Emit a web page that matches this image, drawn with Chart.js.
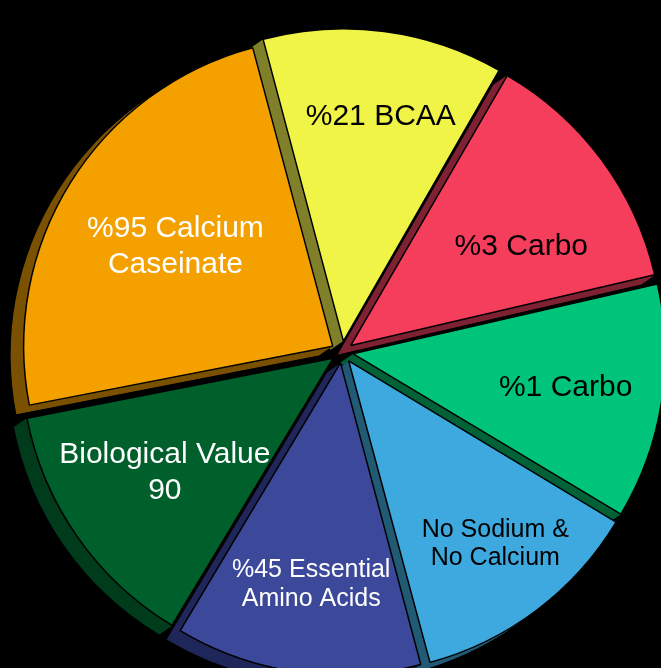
<!DOCTYPE html>
<html>
<head>
<meta charset="utf-8">
<script src="https://cdn.jsdelivr.net/npm/chart.js@4"></script>
<style>
  html, body { margin: 0; padding: 0; background: #000; overflow: hidden; }
  #wrap { width: 661px; height: 668px; position: relative; }
</style>
</head>
<body>
<div id="wrap"><canvas id="c" width="661" height="668"></canvas></div>
<script>
// ---- data ----
const categories = [
  ['%21 BCAA'],
  ['%3 Carbo'],
  ['%1 Carbo'],
  ['No Sodium &', 'No Calcium'],
  ['%45 Essential', 'Amino Acids'],
  ['Biological Value', '90'],
  ['%95 Calcium', 'Caseinate']
];
const values = [45, 47, 44, 44, 46, 48, 86];

// ---- styles ----
const faceColors = ['#F0F446', '#F53D5C', '#00C47A', '#3EA9DE', '#3C4899', '#00602C', '#F4A100'];
const sideColors = ['#7F8029', '#7E2233', '#006236', '#215A75', '#1F2659', '#003B1B', '#7A5100'];
const textColors = ['#000', '#000', '#000', '#000', '#fff', '#fff', '#fff'];
const fontSizes = [30, 30, 30, 25, 25, 30, 30];
const lineHeights = [36, 36, 36, 28, 29, 36, 36];
// label placement: fraction of radius, angle nudge (deg)
const labelDist = [0.777, 0.677, 0.732, 0.79, 0.754, 0.69, 0.642];
const labelNudge = [1.8, 5.5, -0.4, -1.9, -0.4, 1.2, 0.9];
const DEPTH_X = -13, DEPTH_Y = 9;

const sidePlugin = {
  id: 'sides',
  beforeDatasetsDraw(chart) {
    const ctx = chart.ctx;
    const meta = chart.getDatasetMeta(0);
    meta.data.forEach((arc, i) => {
      const p = arc.getProps(['x', 'y', 'startAngle', 'endAngle', 'outerRadius', 'circumference'], true);
      const off = (arc.options.offset || 0) / 4;
      const half = (p.startAngle + p.endAngle) / 2;
      const fix = 1 - Math.sin(Math.min(Math.PI, p.circumference));
      const r = p.outerRadius + off * fix;
      const cx = p.x + Math.cos(half) * off;
      const cy = p.y + Math.sin(half) * off;
      ctx.save();
      ctx.fillStyle = sideColors[i];
      const steps = 20;
      for (let s = 1; s <= steps; s++) {
        const dx = DEPTH_X * s / steps, dy = DEPTH_Y * s / steps;
        ctx.beginPath();
        ctx.moveTo(cx + dx, cy + dy);
        ctx.arc(cx + dx, cy + dy, r, p.startAngle, p.endAngle);
        ctx.closePath();
        ctx.fill();
      }
      ctx.restore();
    });
  }
};

const labelPlugin = {
  id: 'labels',
  afterDatasetsDraw(chart) {
    const ctx = chart.ctx;
    const meta = chart.getDatasetMeta(0);
    meta.data.forEach((arc, i) => {
      const p = arc.getProps(['x', 'y', 'startAngle', 'endAngle', 'outerRadius'], true);
      const a = (p.startAngle + p.endAngle) / 2 + labelNudge[i] * Math.PI / 180;
      const d = p.outerRadius * labelDist[i];
      const lx = p.x + Math.cos(a) * d;
      const ly = p.y + Math.sin(a) * d;
      const lines = categories[i];
      ctx.save();
      ctx.fillStyle = textColors[i];
      ctx.font = fontSizes[i] + 'px "Liberation Sans", Arial, sans-serif';
      ctx.textAlign = 'center';
      ctx.textBaseline = 'middle';
      const lh = lineHeights[i];
      const y0 = ly - (lines.length - 1) * lh / 2;
      lines.forEach((t, k) => ctx.fillText(t, lx, y0 + k * lh + 2));
      ctx.restore();
    });
  }
};

new Chart(document.getElementById('c'), {
  type: 'pie',
  data: {
    labels: categories.map(l => l.join(' ')),
    datasets: [{
      data: values,
      backgroundColor: faceColors,
      borderColor: '#000',
      borderWidth: 1.5,
      offset: 44,
      hoverOffset: 44,
      radius: 309,
      clip: false
    }]
  },
  options: {
    responsive: false,
    devicePixelRatio: 1,
    animation: false,
    rotation: -15,
    layout: { padding: { left: 23, top: 36, right: 0, bottom: 0 } },
    plugins: { legend: { display: false }, tooltip: { enabled: false } },
    events: []
  },
  plugins: [sidePlugin, labelPlugin]
});
</script>
</body>
</html>
